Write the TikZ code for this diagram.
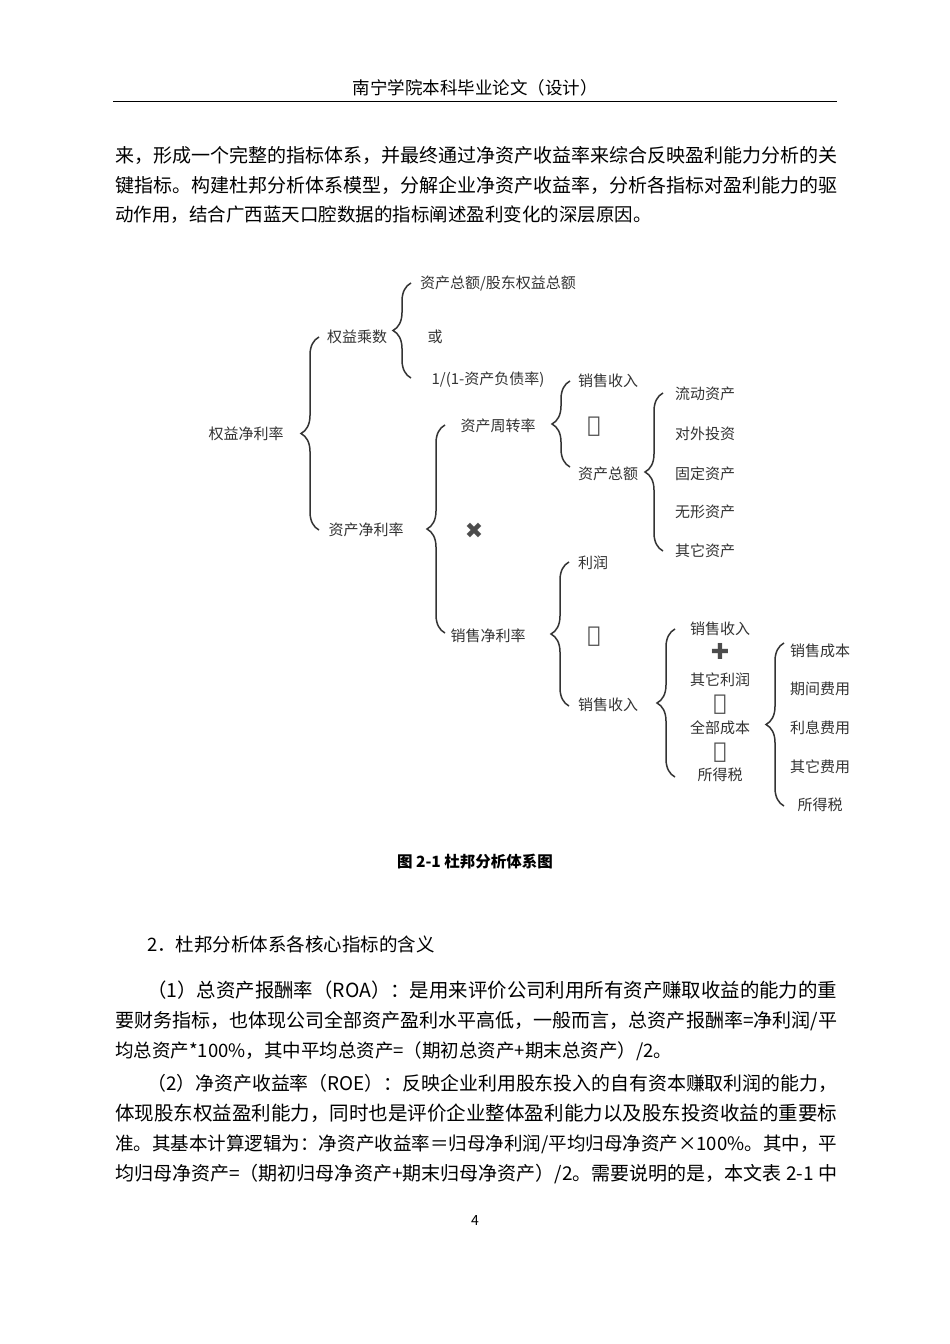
\documentclass[tikz,border=0pt]{standalone}
\usepackage{fontspec}
\setmainfont{Noto Sans CJK SC}
\newfontfamily\symfont{DejaVu Sans}
\usetikzlibrary{positioning,decorations.pathreplacing}

\newcommand{\fitline}[2]{\resizebox{#1pt}{!}{#2}}

\begin{document}
\begin{tikzpicture}[x=1pt, y=-1pt,
    item/.style={text=black!80, font=\fontsize{15}{15}\selectfont, inner sep=0pt},
    sym/.style={text=black!70, font=\symfont\bfseries\fontsize{22}{22}\selectfont, inner sep=0pt},
    brc/.style={draw=black!80, line width=1.5pt, decorate,
        decoration={brace, amplitude=18pt, aspect=0.5}},
    body/.style={anchor=west, inner sep=0pt, font=\fontsize{18.5}{18.5}\selectfont}]
    \useasboundingbox[fill=white] (0,0) rectangle (950,1344);

    % page header and text
    \node [font=\fontsize{17.5}{17.5}\selectfont] (head) at (475,88) {南宁学院本科毕业论文（设计）};
    \draw [line width=0.8pt] (113,101) -- (837,101);
    \node [body] (p1) at (115,155) {\fitline{722}{来，形成一个完整的指标体系，并最终通过净资产收益率来综合反映盈利能力分析的关}};
    \node [body] (p2) at (115,185) {\fitline{722}{键指标。构建杜邦分析体系模型，分解企业净资产收益率，分析各指标对盈利能力的驱}};
    \node [body] (p3) at (115,215) {动作用，结合广西蓝天口腔数据的指标阐述盈利变化的深层原因。};

    % level 1
    \node [item] (roe) at (246,434) {权益净利率};
    \node [item] (em) at (357,337) {权益乘数};
    \node [item] (roa) at (366,530) {资产净利率};
    \draw [brc] (319,530) -- (319,337);

    % equity multiplier
    \node [item] (em1) at (498,283) {资产总额/股东权益总额};
    \node [item] (em2) at (435,337) {或};
    \node [item] (em3) at (488,380) {1/(1-资产负债率)};
    \draw [brc] (411,378) -- (411,283);

    % return on assets
    \node [item] (at) at (498,426) {资产周转率};
    \node [sym] (mul) at (474,531) {✖};
    \node [item] (pm) at (488,636) {销售净利率};
    \draw [brc] (445,633) -- (445,425);

    % asset turnover
    \node [item] (rev1) at (608,381) {销售收入};
    \node [sym] (div1) at (594,427) {➗};
    \node [item] (ta) at (608,474) {资产总额};
    \draw [brc] (570,467) -- (570,381);

    \node [item] (ta1) at (705,394) {流动资产};
    \node [item] (ta2) at (705,434) {对外投资};
    \node [item] (ta3) at (705,474) {固定资产};
    \node [item] (ta4) at (705,512) {无形资产};
    \node [item] (ta5) at (705,551) {其它资产};
    \draw [brc] (663,551) -- (663,393);

    % profit margin
    \node [item] (np) at (593,563) {利润};
    \node [sym] (div2) at (594,637) {➗};
    \node [item] (rev2) at (608,705) {销售收入};
    \draw [brc] (569,706) -- (569,562);

    \node [item] (r1) at (720,629) {销售收入};
    \node [sym] (plus) at (720,651) {✚};
    \node [item] (r2) at (720,680) {其它利润};
    \node [sym] (min1) at (720,705) {➖};
    \node [item] (r3) at (720,728) {全部成本};
    \node [sym] (min2) at (720,753) {➖};
    \node [item] (r4) at (720,775) {所得税};
    \draw [brc] (675,777) -- (675,629);

    % total cost
    \node [item] (c1) at (820,651) {销售成本};
    \node [item] (c2) at (820,689) {期间费用};
    \node [item] (c3) at (820,728) {利息费用};
    \node [item] (c4) at (820,767) {其它费用};
    \node [item] (c5) at (820,805) {所得税};
    \draw [brc] (784,806) -- (784,643);

    \node [font=\bfseries\fontsize{15.5}{15.5}\selectfont] (cap) at (475,862) {图 2-1 杜邦分析体系图};

    % following text
    \node [body] (q0) at (147,944) {2．杜邦分析体系各核心指标的含义};
    \node [body] (q1) at (147,990) {\fitline{690}{（1）总资产报酬率（ROA）：是用来评价公司利用所有资产赚取收益的能力的重}};
    \node [body] (q2) at (115,1021) {\fitline{722}{要财务指标，也体现公司全部资产盈利水平高低，一般而言，总资产报酬率=净利润/平}};
    \node [body] (q3) at (115,1051) {均总资产*100\%，其中平均总资产=（期初总资产+期末总资产）/2。};
    \node [body] (q4) at (147,1083) {\fitline{690}{（2）净资产收益率（ROE）：反映企业利用股东投入的自有资本赚取利润的能力，}};
    \node [body] (q5) at (115,1113) {\fitline{722}{体现股东权益盈利能力，同时也是评价企业整体盈利能力以及股东投资收益的重要标}};
    \node [body] (q6) at (115,1144) {\fitline{722}{准。其基本计算逻辑为：净资产收益率＝归母净利润/平均归母净资产×100\%。其中，平}};
    \node [body] (q7) at (115,1174) {\fitline{722}{均归母净资产=（期初归母净资产+期末归母净资产）/2。需要说明的是，本文表 2-1 中}};
    \node [font=\fontsize{14}{14}\selectfont] (pg) at (475,1220) {4};
\end{tikzpicture}
\end{document}
